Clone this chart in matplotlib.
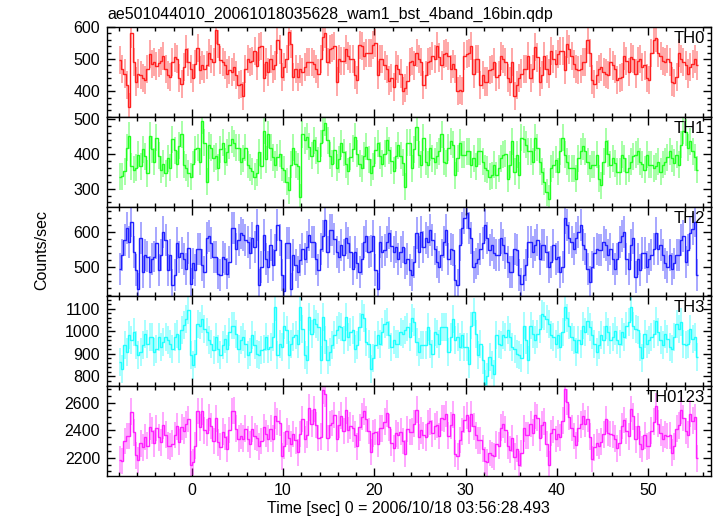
import numpy as np
import matplotlib
matplotlib.use("Agg")
import matplotlib.pyplot as plt
from matplotlib.ticker import MultipleLocator

plt.rcParams['font.family'] = ['Liberation Sans', 'DejaVu Sans']

title = "ae501044010_20061018035628_wam1_bst_4band_16bin.qdp"
xlabel = "Time [sec] 0 = 2006/10/18 03:56:28.493"
ylabel = "Counts/sec"
bands = ["TH0", "TH1", "TH2", "TH3", "TH0123"]

t_start = -8.0
bin_width = 0.25

th0 = [496, 470, 455, 420, 350, 580, 490, 430, 455, 450,
       440, 435, 470, 515, 485, 490, 478, 488, 495, 510,
       470, 450, 445, 490, 505, 500, 440, 423, 475, 532,
       490, 470, 440, 485, 535, 465, 480, 470, 482, 520,
       500, 490, 590, 548, 497, 492, 482, 455, 465, 460,
       475, 450, 420, 422, 385, 470, 500, 490, 495, 525,
       478, 538, 540, 440, 492, 460, 500, 470, 480, 560,
       530, 445, 475, 500, 585, 548, 445, 470, 445, 470,
       460, 475, 490, 490, 490, 485, 470, 455, 500, 570,
       580, 490, 530, 535, 540, 430, 500, 495, 495, 530,
       510, 500, 500, 450, 435, 545, 540, 510, 520, 520,
       518, 545, 550, 450, 500, 500, 480, 470, 433, 440,
       412, 480, 470, 455, 400, 410, 433, 490, 495, 480,
       520, 500, 490, 420, 450, 490, 495, 510, 500, 540,
       505, 480, 515, 520, 510, 470, 485, 470, 401, 405,
       400, 510, 515, 520, 540, 455, 500, 500, 420, 450,
       430, 430, 465, 470, 490, 445, 450, 510, 500, 490,
       440, 430, 490, 385, 420, 440, 455, 470, 470, 510,
       440, 470, 538, 505, 430, 450, 510, 470, 455, 525,
       500, 485, 515, 525, 525, 465, 548, 530, 510, 485,
       470, 465, 470, 490, 490, 560, 520, 436, 422, 450,
       470, 475, 460, 455, 450, 490, 480, 470, 435, 440,
       445, 510, 495, 460, 505, 500, 455, 495, 500, 475,
       480, 440, 435, 520, 560, 565, 520, 510, 495, 490,
       500, 490, 430, 425, 445, 520, 500, 490, 480, 455,
       475, 485, 500, 480]

th1 = [334, 336, 350, 418, 452, 364, 354, 360, 398, 364,
       413, 393, 344, 452, 413, 378, 447, 395, 354, 372,
       344, 388, 360, 442, 410, 370, 423, 457, 369, 360,
       344, 334, 370, 413, 418, 378, 496, 432, 320, 425,
       418, 388, 393, 360, 413, 432, 378, 405, 425, 442,
       430, 418, 418, 378, 388, 418, 369, 360, 350, 334,
       345, 405, 366, 467, 385, 457, 418, 390, 369, 390,
       400, 360, 355, 320, 295, 369, 418, 370, 365, 275,
       457, 440, 450,
       420, 395, 440, 410, 380, 430, 470, 490, 440, 395,
       372, 410, 360, 385, 430, 405, 370, 350, 392, 415,
       450, 400, 372, 358, 395, 420, 385, 345, 365, 410,
       430, 395, 372, 400, 440, 410, 380, 352, 395, 425,
       395, 375,
       305, 432, 432, 359, 413, 477, 398, 369, 447, 378,
       369, 418, 388, 378, 395, 408, 457, 378, 373, 418,
       437, 427, 339, 388, 432, 398, 398, 408, 408, 369,
       388, 364, 408, 408, 378, 359, 354, 334, 339, 369,
       339, 359, 388, 398, 400, 329, 369, 437, 348, 398,
       339, 447, 442, 427, 408, 408, 378, 447, 418, 378,
       349, 320, 290, 271, 359, 369, 383, 349, 408, 447,
       398, 378, 359, 359, 359, 329, 388, 408, 422, 408,
       378, 359, 369, 369, 398, 329, 310, 378, 437, 400,
       369, 388, 373, 349, 349, 398, 388, 349, 359, 378,
       393, 398, 408, 378, 370, 354, 398, 369, 369, 359,
       364, 378, 349, 369, 378, 390, 408, 388, 374, 398,
       369, 427, 467, 462, 418, 437, 408, 390, 354]

th2 = [493, 534, 578, 612, 573, 631, 544, 490, 437, 583,
       485, 534, 530, 485, 524, 530, 568, 490, 534, 602,
       578, 490, 534, 447, 476, 568, 529, 539, 524, 495,
       555, 451, 510, 490, 553, 553, 505, 485, 583, 588,
       568, 529, 529, 481, 476, 529, 524, 481, 515, 612,
       612, 553, 578, 597, 592, 578, 573, 539, 583, 558,
       621, 447, 500, 592, 524, 500, 563, 505, 549, 621,
       578, 476, 432, 568, 568, 437, 534, 505, 485, 519,
       553, 524, 558, 592, 573, 573, 524, 490, 553, 588,
       636, 544, 607, 607, 580, 544, 529, 563, 534, 583,
       568, 544, 495, 544, 510, 485, 524, 573, 588, 544,
       545, 588, 490, 437, 573, 544, 549, 573, 597, 560,
       544, 558, 524, 544, 558, 510, 524, 490,
       476, 515, 597, 544, 602, 558, 583, 573, 607, 578,
       553, 515, 500, 534, 573, 607, 524, 553, 549, 461,
       447, 563, 612, 640, 655, 612, 583, 500, 510, 524,
       553, 568, 621, 583, 549, 563, 539, 534, 534, 583,
       563, 539, 515, 485, 485, 553, 548, 476, 451, 476,
       505, 573, 573, 544, 563, 578, 524, 563, 563, 544,
       500, 515, 563, 524, 529, 485, 500, 641, 620, 583,
       573, 553, 583, 602, 621, 563, 553, 495, 456, 500,
       539, 553, 549, 549, 573, 563, 534, 553, 524, 495,
       524, 573, 590, 602, 524, 495, 563, 583, 470, 524,
       490, 539, 539, 500, 524, 534, 553, 597, 553, 563,
       534, 510, 500, 534, 495, 510, 534, 534, 578, 588,
       515, 549, 597, 610, 631, 476]

th3 = [864, 835, 938, 908, 982, 960, 997, 938, 894, 908,
       938, 990, 945, 975, 975, 908, 923, 975, 930, 953,
       975, 960, 945, 923, 975, 990, 923, 1004, 1030, 1056,
       1093, 894, 849, 900, 1034, 1026, 1056, 1012, 997, 960,
       945, 916, 975, 923, 894, 938, 968, 923, 997, 1026,
       1026, 990, 923, 960, 975, 945, 894, 908, 982, 938,
       901, 894, 916, 923, 975, 923, 930, 975, 1108, 894,
       945, 930, 1026, 1004, 894, 945, 975, 982, 945, 1108,
       1012, 894, 871, 1063, 990, 1056, 1034, 1019, 871, 1063,
       960, 871, 908, 938, 982, 1004, 1026, 1019, 960, 1063,
       975, 997, 1004, 923, 938, 1019, 1078, 1060, 953, 945,
       835, 880, 938, 982, 945, 997, 1034, 1041, 982, 930,
       960, 945, 945, 997, 990, 1004, 1019, 975,
       1060, 1041, 955, 910, 938, 938, 938, 1019, 945, 901,
       997, 990, 945, 1019, 1019, 1019, 908, 975, 1056, 960,
       975, 930, 982, 930, 930, 857, 1026, 1085, 990, 894,
       945, 871, 768, 800, 886, 849, 812, 982, 945, 938,
       982, 975, 1004, 975, 930, 923, 901, 894, 880, 1026,
       960, 871, 1026, 990, 960, 990, 1012, 1078, 1070, 1056,
       1034, 982, 975, 945, 982, 930, 997, 1108, 1060, 1026,
       975, 960, 908, 960, 945, 1026, 997, 1048, 1019, 982,
       945, 908, 938, 982, 960, 1026, 997, 960, 975, 1000,
       960, 945, 997, 975, 1026, 1041, 1108, 1026, 1012, 1004,
       930, 880, 990, 945, 960, 975, 990, 1048, 997, 960,
       938, 990, 968, 930, 923, 975, 1034, 1012, 1041, 945,
       938, 945, 1012, 968, 975, 886]

th0123 = [2187, 2175, 2321, 2358, 2357, 2535, 2385, 2218, 2184, 2305,
          2276, 2352, 2289, 2427, 2397, 2306, 2416, 2348, 2313, 2437,
          2367, 2288, 2284, 2302, 2366, 2428, 2315, 2423, 2398, 2443,
          2482, 2149, 2169, 2288, 2540, 2422, 2537, 2399, 2382, 2493,
          2431, 2323, 2487, 2312, 2280, 2391, 2352, 2264, 2402, 2540,
          2543, 2411, 2339, 2357, 2340, 2411, 2336, 2297, 2410, 2355,
          2345, 2284, 2322, 2422, 2376, 2340, 2411, 2340, 2506, 2465,
          2453, 2211, 2288, 2392, 2342, 2299, 2372, 2327, 2240, 2372,
          2482, 2333, 2369, 2565, 2448, 2554, 2438, 2344, 2354, 2691,
          2666, 2345, 2440, 2452, 2512, 2338, 2440, 2507, 2394, 2546,
          2403, 2433, 2414, 2367, 2283, 2421, 2500, 2538, 2481, 2394,
          2243, 2378, 2388, 2299, 2413, 2413, 2463, 2524, 2422, 2310,
          2268, 2378, 2364, 2391, 2323, 2229, 2408, 2387, 2390, 2449,
          2549, 2352, 2399, 2363, 2349, 2451, 2465, 2377, 2428, 2440,
          2358, 2490, 2485, 2519, 2360, 2435, 2517, 2230, 2211, 2330,
          2392, 2478, 2508, 2397, 2518, 2428, 2364, 2326, 2326, 2267,
          2178, 2167, 2234, 2221, 2210, 2300, 2288, 2419, 2443, 2404,
          2288, 2259, 2342, 2209, 2267, 2149, 2233, 2414, 2362, 2362,
          2447, 2382, 2508, 2491, 2344, 2440, 2463, 2300, 2150, 2381,
          2407, 2337, 2375, 2348, 2469, 2700, 2606, 2498, 2417, 2357,
          2290, 2415, 2444, 2501, 2448, 2481, 2354, 2190, 2275, 2309,
          2286, 2316, 2371, 2481, 2381, 2372, 2367, 2338, 2268, 2307,
          2430, 2475, 2394, 2355, 2554, 2502, 2335, 2431, 2298, 2264,
          2363, 2283, 2288, 2398, 2462, 2574, 2448, 2382, 2336, 2368,
          2358, 2362, 2236, 2284, 2411, 2435, 2546, 2490, 2395, 2367,
          2521, 2471, 2496, 2196]

series = [th0, th1, th2, th3, th0123]
errors = [44, 39, 46, 62, 97]
colors = ["#ff2020", "#20ff20", "#2020ff", "#20ffff", "#ff20ff"]
ylims = [(320, 600), (248, 507), (415, 674), (757, 1155), (2067, 2721)]
ymajor = [100, 100, 100, 100, 200]
yminor = [20, 20, 20, 20, 50]

W, H = 717, 516
fig = plt.figure(figsize=(W / 100, H / 100), dpi=100)

left_px, right_px = 107, 711
top_px, bot_px = 27, 476
ph = (bot_px - top_px) / 5.0

for k, (name, vals, err, col) in enumerate(zip(bands, series, errors, colors)):
    y0 = 1 - (top_px + (k + 1) * ph) / H
    ax = fig.add_axes([left_px / W, y0, (right_px - left_px) / W, ph / H])
    v = np.asarray(vals, dtype=float)
    n = len(v)
    centers = t_start + bin_width * (np.arange(n) + 0.5)
    edges = t_start + bin_width * np.arange(n + 1)
    ax.vlines(centers, v - err, v + err, color=col, alpha=0.5, lw=1.1)
    ax.stairs(v, edges, baseline=None, color=col, lw=1.0)
    ax.set_xlim(-9.3, 56.9)
    ax.set_ylim(*ylims[k])
    ax.xaxis.set_major_locator(MultipleLocator(10))
    ax.xaxis.set_minor_locator(MultipleLocator(2))
    ax.yaxis.set_major_locator(MultipleLocator(ymajor[k]))
    ax.yaxis.set_minor_locator(MultipleLocator(yminor[k]))
    ax.tick_params(which='both', direction='in', top=True, right=True,
                   labelsize=11.5, width=1, color='black')
    ax.tick_params(which='major', length=6, pad=5)
    ax.tick_params(which='minor', length=3)
    for s in ax.spines.values():
        s.set_linewidth(1.0)
    if k < 4:
        ax.tick_params(labelbottom=False)
    ax.text(0.99, 0.955, name, transform=ax.transAxes, ha='right', va='top',
            fontsize=12)

fig.text(left_px / W, 1 - 19 / H, title, ha='left', va='baseline', fontsize=11.5)
fig.text(408 / W, 1 - 513 / H, xlabel, ha='center', va='baseline', fontsize=11.5)
fig.text(42 / W, 1 - 250 / H, ylabel, ha='center', va='center', rotation=90,
         fontsize=11.5)

fig.savefig("out.png", dpi=100)
